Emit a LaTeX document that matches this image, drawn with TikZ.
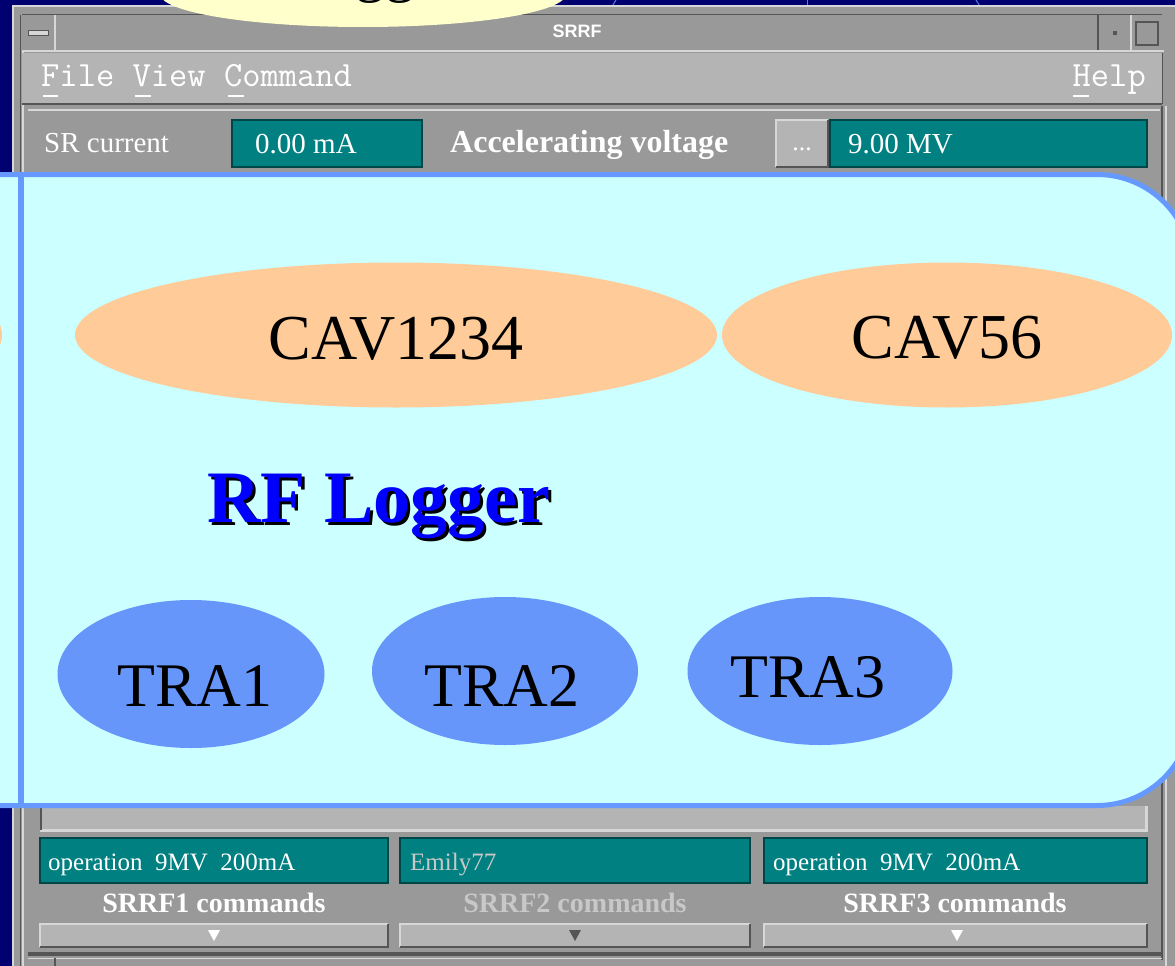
\documentclass[tikz,border=0pt]{standalone}
\usepackage{fontspec}
\setmainfont{Liberation Serif}
\newfontfamily\sansf{Liberation Sans}
\usetikzlibrary{shapes.geometric}
\definecolor{navy}{RGB}{0,0,112}
\definecolor{bgline}{RGB}{90,120,230}
\definecolor{framegray}{RGB}{153,153,153}
\definecolor{menugray}{RGB}{180,180,180}
\definecolor{lightedge}{RGB}{215,215,215}
\definecolor{darkedge}{RGB}{85,85,85}
\definecolor{tealbox}{RGB}{0,128,128}
\definecolor{tealdark}{RGB}{0,70,70}
\definecolor{cyanfill}{RGB}{204,255,255}
\definecolor{bluebord}{RGB}{102,153,255}
\definecolor{orangefill}{RGB}{255,204,153}
\definecolor{bluefill}{RGB}{102,150,250}
\definecolor{yellowfill}{RGB}{255,255,204}
\definecolor{dimtext}{RGB}{200,200,200}
\tikzset{
  fs/.style={font=\fontsize{#1}{#1}\selectfont},
  uitext/.style={text=white, inner sep=0pt},
  tealfield/.style={fill=tealbox, draw=tealdark, line width=1.5pt},
  cavshape/.style={ellipse, fill=orangefill, inner sep=0pt},
  trashape/.style={ellipse, fill=bluefill, inner sep=0pt},
  bigtext/.style={inner sep=0pt, text=black},
}
\begin{document}
\begin{tikzpicture}[x=1pt,y=-1pt]
\useasboundingbox (0,0) rectangle (1175,966);
\begin{scope}
\clip (0,0) rectangle (1175,966);
% background
\fill[navy] (0,0) rectangle (1175,966);
\draw[bgline, line width=1pt] (616,0) -- (606,16);
\draw[bgline, line width=1pt] (807,0) -- (807,16);
\draw[bgline, line width=1pt] (976,0) -- (986,16);
% window frame
\fill[framegray] (12,5) rectangle (1190,990);
\draw[lightedge, line width=2pt] (13,990) -- (13,6) -- (1190,6);
\draw[darkedge, line width=1pt] (20,15) -- (20,990);
\draw[lightedge, line width=1.5pt] (23,15) -- (23,990);
% title bar
\fill[framegray] (22,15) rectangle (1162,50);
\draw[lightedge, line width=1.5pt] (22,51) -- (1164,51);
\draw[darkedge, line width=1pt] (22,15) -- (1162,15);
\draw[lightedge, line width=1.2pt] (55,15) -- (55,50);
\draw[darkedge, line width=1.2pt] (1098,15) -- (1098,50);
\draw[lightedge, line width=1.2pt] (1131,15) -- (1131,50);
\fill[lightedge] (28,30) rectangle (48,35);
\draw[darkedge, line width=0.8pt] (28,30) rectangle (48,35);
\fill[darkedge] (1113,31) rectangle (1117,35);
\draw[darkedge, line width=1.2pt] (1136,22) rectangle (1158,45);
\node[uitext, anchor=base, font=\sansf\bfseries\fontsize{18}{18}\selectfont] (title) at (577,38) {SRRF};
% menu bar
\fill[menugray] (22,53) rectangle (1162,103);
\draw[darkedge, line width=2pt] (22,104) -- (1162,104);
\draw[darkedge, line width=1pt] (1162,53) -- (1162,104);
\node[uitext, anchor=base west, font=\ttfamily\fontsize{35.5}{35.5}\selectfont] (menu) at (41,86) {File View Command};
\node[uitext, anchor=base east, font=\ttfamily\fontsize{35.5}{35.5}\selectfont] (help) at (1146,86) {Help};
\draw[white, line width=2pt] (43,96) -- (58,96) (135,96) -- (151,96) (228,96) -- (244,96) (1073,96) -- (1089,96);
% main panel
\fill[framegray] (28,110) rectangle (1160,960);
\draw[lightedge, line width=1.5pt] (28,110) -- (1160,110);
\draw[darkedge, line width=2pt] (1162,106) -- (1162,960);
\draw[lightedge, line width=1.5pt] (1166,106) -- (1166,990);
% row 1
\node[uitext, anchor=base west, fs=29] (srcur) at (44,152) {SR current};
\draw[tealfield] (232,120) rectangle (422,167);
\node[uitext, anchor=base west, fs=29] (srval) at (255,153) {0.00 mA};
\node[uitext, anchor=base west, font=\bfseries\fontsize{32}{32}\selectfont] (accl) at (450,152) {Accelerating voltage};
\fill[menugray] (776,120) rectangle (828,167);
\draw[lightedge, line width=1.5pt] (776,167) -- (776,120) -- (828,120);
\draw[darkedge, line width=1.5pt] (776,167) -- (828,167) -- (828,120);
\node[uitext, anchor=base, fs=26] (dots) at (802,150) {...};
\draw[tealfield] (830,120) rectangle (1147,167);
\node[uitext, anchor=base west, fs=29] (accval) at (848,153) {9.00 MV};
% bottom area
\fill[menugray] (40,806) rectangle (1147,830);
\draw[lightedge, line width=3pt] (40,830) -- (1146,830) -- (1146,806);
\draw[darkedge, line width=1.5pt] (41,806) -- (41,830);
\draw[tealfield] (40,838) rectangle (388,883);
\draw[tealfield] (400,838) rectangle (750,883);
\draw[tealfield] (764,838) rectangle (1147,883);
\node[uitext, anchor=base west, fs=25] (op1) at (48,870) {operation\ \ 9MV\ \ 200mA};
\node[anchor=base west, inner sep=0pt, text=dimtext, fs=25] (emily) at (410,870) {Emily77};
\node[uitext, anchor=base west, fs=25] (op3) at (773,870) {operation\ \ 9MV\ \ 200mA};
\node[uitext, anchor=base, font=\bfseries\fontsize{28}{28}\selectfont] (cmd1) at (214,912) {SRRF1 commands};
\node[anchor=base, inner sep=0pt, text=dimtext, font=\bfseries\fontsize{28}{28}\selectfont] (cmd2) at (575,912) {SRRF2 commands};
\node[uitext, anchor=base, font=\bfseries\fontsize{28}{28}\selectfont] (cmd3) at (955,912) {SRRF3 commands};
\foreach \a/\b in {40/388, 400/750, 764/1147} {
  \fill[menugray] (\a,924) rectangle (\b,947);
  \draw[lightedge, line width=1.5pt] (\a,947) -- (\a,924) -- (\b,924);
  \draw[darkedge, line width=1.5pt] (\a,947) -- (\b,947) -- (\b,924);
}
\fill[white] (208,930) -- (220,930) -- (214,941) -- cycle;
\fill[darkedge] (569,930) -- (581,930) -- (575,941) -- cycle;
\fill[white] (951,930) -- (963,930) -- (957,941) -- cycle;
\fill[darkedge] (28,952) rectangle (1162,956);
\draw[lightedge, line width=1pt] (28,958) -- (1162,958);
\draw[darkedge, line width=1.5pt] (55,958) -- (55,966);
% yellow ellipse at top
\fill[yellowfill] (363,-6) ellipse [x radius=203, y radius=33];
\node[anchor=base west, inner sep=0pt, fs=60] (topword) at (355,-9) {gg};
% cyan overlay
\draw[fill=cyanfill, draw=bluebord, line width=5pt, rounded corners=95pt] (-150,174.5) rectangle (1192,805.5);
\fill[orangefill] (-200,335) ellipse [x radius=202, y radius=72];
\draw[bluebord, line width=6pt] (21,177) -- (21,803);
\end{scope}
% ellipses
\node[cavshape, minimum width=642, minimum height=145] (cav1234shape) at (396,335) {};
\node[cavshape, minimum width=450, minimum height=145] (cav56shape) at (947,335) {};
\node[trashape, minimum width=267, minimum height=148] (tra1shape) at (191,674) {};
\node[trashape, minimum width=266, minimum height=148] (tra2shape) at (505,671) {};
\node[trashape, minimum width=265, minimum height=148] (tra3shape) at (820,671) {};
\node[bigtext, anchor=base, fs=64] (cav1234) at (396,359) {CAV1234};
\node[bigtext, anchor=base, fs=64] (cav56) at (947,358) {CAV56};
\node[bigtext, anchor=base, fs=62] (tra1) at (195,706) {TRA1};
\node[bigtext, anchor=base, fs=62] (tra2) at (502,706) {TRA2};
\node[bigtext, anchor=base, fs=62] (tra3) at (808,697) {TRA3};
\node[inner sep=0pt, anchor=base west, text=black, font=\bfseries\fontsize{74}{74}\selectfont] (rfshadow) at (210,525) {RF Logger};
\node[inner sep=0pt, anchor=base west, text=blue, font=\bfseries\fontsize{74}{74}\selectfont] (rflogger) at (207,522) {RF Logger};
\end{tikzpicture}
\end{document}
